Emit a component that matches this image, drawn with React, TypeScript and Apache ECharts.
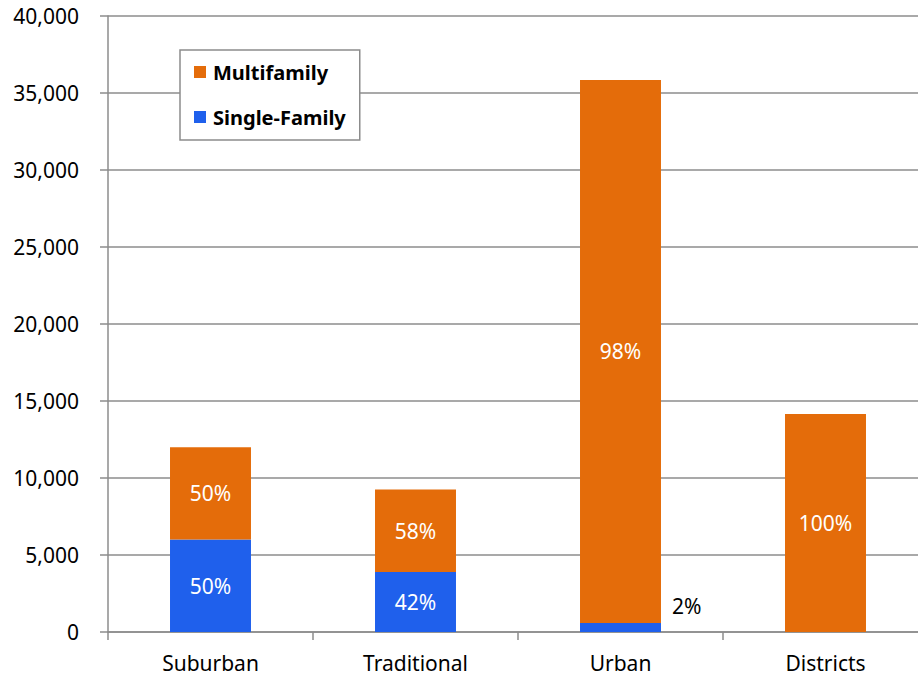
import React, { useEffect, useRef } from "react";
import * as echarts from "echarts";

const categories = ["Suburban", "Traditional", "Urban", "Districts"];
const singleFamily = [6000, 3900, 580, 0];
const multifamily = [6000, 5350, 35270, 14150];
const yTicks = { min: 0, max: 40000, step: 5000 };

const FONT = "'Noto Sans', 'Open Sans', sans-serif";
const ORANGE = "#E46C0A";
const BLUE = "#1F60EC";
const GRID = "#8c8c8c";

const totals = categories.map((_, i) => singleFamily[i] + multifamily[i]);
const pct = (v: number, i: number) =>
  v > 0 ? Math.round((v / totals[i]) * 100) + "%" : "";

export default function App() {
  const ref = useRef<HTMLDivElement>(null);

  useEffect(() => {
    if (!ref.current) return;
    const chart = echarts.init(ref.current, null, { renderer: "svg" });

    const singleData = singleFamily.map((v, i) => {
      // A sliver too thin to hold its label gets it to the side, in black.
      if (v > 0 && v / totals[i] < 0.05) {
        return {
          value: v,
          label: {
            position: "right" as const,
            distance: 11,
            offset: [0, -22],
            color: "#000",
          },
        };
      }
      return { value: v };
    });

    chart.setOption({
      animation: false,
      backgroundColor: "#fff",
      grid: { left: 108, right: 0, top: 16, bottom: 47, containLabel: false },
      legend: {
        data: ["Multifamily", "Single-Family"],
        orient: "vertical",
        left: 180,
        top: 50,
        padding: [12, 14, 13, 14],
        itemGap: 25,
        itemWidth: 12,
        itemHeight: 12,
        icon: "rect",
        borderColor: GRID,
        borderWidth: 1.5,
        backgroundColor: "#fff",
        textStyle: {
          fontFamily: FONT,
          fontSize: 20,
          fontWeight: "bold",
          color: "#000",
          lineHeight: 20,
          padding: [0, 0, 0, 2],
        },
      },
      xAxis: {
        type: "category",
        data: categories,
        axisLine: { lineStyle: { color: GRID, width: 1.5 } },
        axisTick: { show: true, length: 8, lineStyle: { color: GRID, width: 1.5 } },
        axisLabel: { fontFamily: FONT, fontSize: 21, color: "#000", margin: 20 },
      },
      yAxis: {
        type: "value",
        min: yTicks.min,
        max: yTicks.max,
        interval: yTicks.step,
        axisLine: { show: true, lineStyle: { color: GRID, width: 1.5 } },
        axisTick: { show: true, length: 8, lineStyle: { color: GRID, width: 1.5 } },
        splitLine: { lineStyle: { color: GRID, width: 1.5 } },
        axisLabel: {
          fontFamily: FONT,
          fontSize: 21,
          color: "#000",
          margin: 29,
          formatter: (v: number) => v.toLocaleString("en-US"),
        },
      },
      series: [
        {
          name: "Single-Family",
          type: "bar",
          stack: "total",
          barWidth: "39.5%",
          data: singleData,
          itemStyle: { color: BLUE },
          label: {
            show: true,
            position: "inside",
            color: "#fff",
            fontFamily: FONT,
            fontSize: 21,
            formatter: (p: any) => pct(p.value, p.dataIndex),
          },
        },
        {
          name: "Multifamily",
          type: "bar",
          stack: "total",
          barWidth: "39.5%",
          data: multifamily,
          itemStyle: { color: ORANGE },
          label: {
            show: true,
            position: "inside",
            color: "#fff",
            fontFamily: FONT,
            fontSize: 21,
            formatter: (p: any) => pct(p.value, p.dataIndex),
          },
        },
      ],
    });

    return () => chart.dispose();
  }, []);

  // The plot runs a little past the right edge of the visible frame.
  return (
    <div
      style={{
        position: "fixed",
        left: 0,
        top: 0,
        width: 918,
        height: 679,
        overflow: "hidden",
      }}
    >
      <div ref={ref} style={{ width: 928, height: 679 }} />
    </div>
  );
}
